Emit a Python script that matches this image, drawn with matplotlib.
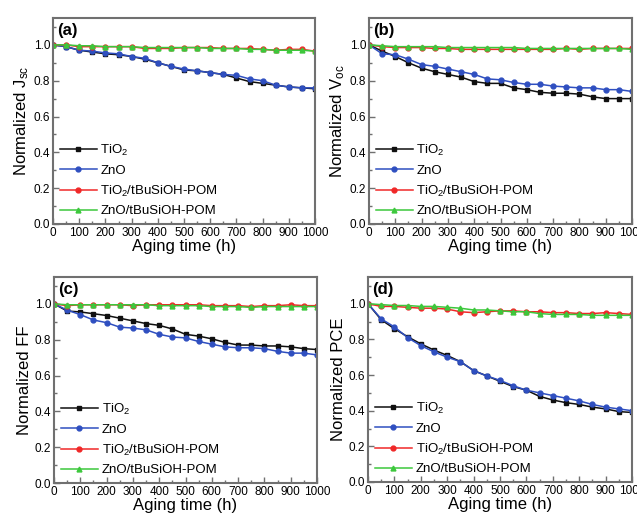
import matplotlib
matplotlib.use("Agg")
import matplotlib.pyplot as plt
import numpy as np
from matplotlib.ticker import MultipleLocator

plt.rcParams['font.family'] = ['Liberation Sans', 'DejaVu Sans']
plt.rcParams['mathtext.fontset'] = 'custom'
plt.rcParams['mathtext.rm'] = 'Liberation Sans'
plt.rcParams['mathtext.it'] = 'Liberation Sans'

hours = list(range(0, 1001, 50))
labels = ["TiO$_2$", "ZnO", "TiO$_2$/tBuSiOH-POM", "ZnO/tBuSiOH-POM"]

jsc_tio2 = [1.0, 0.99, 0.97, 0.96, 0.95, 0.945, 0.935, 0.92, 0.90, 0.88, 0.86,
            0.855, 0.845, 0.835, 0.815, 0.795, 0.785, 0.775, 0.765, 0.76, 0.755]
jsc_zno = [1.0, 0.99, 0.97, 0.965, 0.955, 0.95, 0.935, 0.925, 0.90, 0.88, 0.865,
           0.855, 0.845, 0.835, 0.83, 0.81, 0.80, 0.775, 0.765, 0.76, 0.76]
jsc_tio2_pom = [1.0, 1.0, 0.99, 0.99, 0.99, 0.99, 0.99, 0.98, 0.98, 0.98, 0.985,
                0.985, 0.985, 0.98, 0.98, 0.98, 0.975, 0.97, 0.975, 0.975, 0.965]
jsc_zno_pom = [1.0, 1.0, 0.995, 0.995, 0.99, 0.99, 0.99, 0.985, 0.985, 0.985, 0.985,
               0.985, 0.98, 0.98, 0.98, 0.975, 0.975, 0.97, 0.97, 0.97, 0.965]

voc_tio2 = [1.0, 0.965, 0.935, 0.90, 0.87, 0.85, 0.835, 0.82, 0.795, 0.785, 0.785,
            0.76, 0.75, 0.735, 0.73, 0.73, 0.725, 0.71, 0.70, 0.70, 0.70]
voc_zno = [1.0, 0.95, 0.945, 0.92, 0.89, 0.88, 0.865, 0.85, 0.835, 0.81, 0.805,
           0.79, 0.78, 0.78, 0.77, 0.765, 0.76, 0.76, 0.75, 0.75, 0.74]
voc_tio2_pom = [1.0, 0.99, 0.985, 0.985, 0.985, 0.98, 0.98, 0.975, 0.975, 0.975, 0.975,
                0.975, 0.975, 0.975, 0.975, 0.98, 0.975, 0.98, 0.98, 0.98, 0.98]
voc_zno_pom = [1.0, 0.995, 0.99, 0.99, 0.99, 0.99, 0.985, 0.985, 0.985, 0.985, 0.985,
               0.985, 0.98, 0.98, 0.98, 0.98, 0.98, 0.98, 0.98, 0.98, 0.975]

ff_tio2 = [1.0, 0.96, 0.955, 0.945, 0.935, 0.92, 0.905, 0.89, 0.88, 0.86, 0.83,
           0.82, 0.805, 0.785, 0.77, 0.77, 0.765, 0.765, 0.76, 0.75, 0.745]
ff_zno = [1.0, 0.965, 0.94, 0.91, 0.895, 0.87, 0.865, 0.855, 0.83, 0.815, 0.81,
          0.79, 0.775, 0.76, 0.755, 0.755, 0.75, 0.735, 0.725, 0.725, 0.715]
ff_tio2_pom = [1.0, 0.99, 0.995, 0.995, 0.995, 0.995, 0.99, 0.995, 0.995, 0.995, 0.995,
               0.995, 0.99, 0.99, 0.99, 0.985, 0.99, 0.99, 0.995, 0.99, 0.99]
ff_zno_pom = [1.0, 0.995, 0.995, 0.995, 0.995, 0.995, 0.995, 0.995, 0.99, 0.99, 0.99,
              0.99, 0.985, 0.985, 0.985, 0.98, 0.985, 0.985, 0.985, 0.985, 0.985]

pce_tio2 = [1.0, 0.91, 0.86, 0.815, 0.775, 0.74, 0.71, 0.675, 0.625, 0.595, 0.565,
            0.535, 0.515, 0.48, 0.46, 0.445, 0.435, 0.42, 0.41, 0.395, 0.39]
pce_zno = [1.0, 0.915, 0.87, 0.81, 0.765, 0.73, 0.70, 0.675, 0.625, 0.595, 0.57,
           0.54, 0.515, 0.50, 0.485, 0.47, 0.455, 0.435, 0.42, 0.41, 0.40]
pce_tio2_pom = [1.0, 0.985, 0.985, 0.98, 0.975, 0.975, 0.97, 0.955, 0.95, 0.955, 0.96,
                0.96, 0.955, 0.955, 0.95, 0.95, 0.945, 0.945, 0.95, 0.945, 0.94]
pce_zno_pom = [1.0, 0.995, 0.99, 0.99, 0.985, 0.985, 0.98, 0.975, 0.965, 0.965, 0.96,
               0.955, 0.955, 0.945, 0.94, 0.94, 0.94, 0.935, 0.935, 0.935, 0.935]

panels = [
    ("(a)", "Normalized J$_{sc}$", [jsc_tio2, jsc_zno, jsc_tio2_pom, jsc_zno_pom]),
    ("(b)", "Normalized V$_{oc}$", [voc_tio2, voc_zno, voc_tio2_pom, voc_zno_pom]),
    ("(c)", "Normalized FF", [ff_tio2, ff_zno, ff_tio2_pom, ff_zno_pom]),
    ("(d)", "Normalized PCE", [pce_tio2, pce_zno, pce_tio2_pom, pce_zno_pom]),
]

# pixel boxes (left, top, right, bottom) of each panel
boxes = [(53, 18, 315, 224), (369, 18, 632, 224),
         (54, 277, 317, 483), (368, 277, 632, 482)]

colors = ["#101010", "#2f4fc0", "#f02828", "#3cc83c"]
markers = ["s", "o", "o", "^"]

W, H = 637, 516
fig = plt.figure(figsize=(W / 100, H / 100), dpi=100)

for (tag, ylab, series), (l, t, r, b) in zip(panels, boxes):
    ax = fig.add_axes([l / W, (H - b) / H, (r - l) / W, (b - t) / H])
    for vals, c, m, lab in zip(series, colors, markers, labels):
        ax.plot(hours, vals, color=c, marker=m, markersize=3.5, lw=1.1,
                label=lab)
    ax.set_xlim(0, 1000)
    ax.set_ylim(0, 1.15)
    ax.xaxis.set_major_locator(MultipleLocator(100))
    ax.xaxis.set_minor_locator(MultipleLocator(50))
    ax.yaxis.set_minor_locator(MultipleLocator(0.1))
    ax.set_yticks(np.arange(0, 1.01, 0.2))
    ax.set_yticklabels(["%.1f" % v for v in np.arange(0, 1.01, 0.2)])
    ax.tick_params(which="both", direction="in", color="#707070",
                   labelsize=8.5, pad=2, width=1)
    ax.tick_params(which="major", length=4)
    ax.tick_params(which="minor", length=2.5)
    for sp in ax.spines.values():
        sp.set_color("#707070")
        sp.set_linewidth(1.5)
    ax.set_xlabel("Aging time (h)", fontsize=12, labelpad=0)
    ax.set_ylabel(ylab, fontsize=12, labelpad=2)
    ax.text(0.015, 0.975, tag, transform=ax.transAxes, fontsize=12,
            fontweight="bold", va="top", ha="left")
    ax.legend(loc="lower left", frameon=False, fontsize=9.5, handlelength=2.8,
              handletextpad=0.3, labelspacing=0.5, borderaxespad=0.1,
              borderpad=0.4)

fig.savefig("out.png", dpi=100)
